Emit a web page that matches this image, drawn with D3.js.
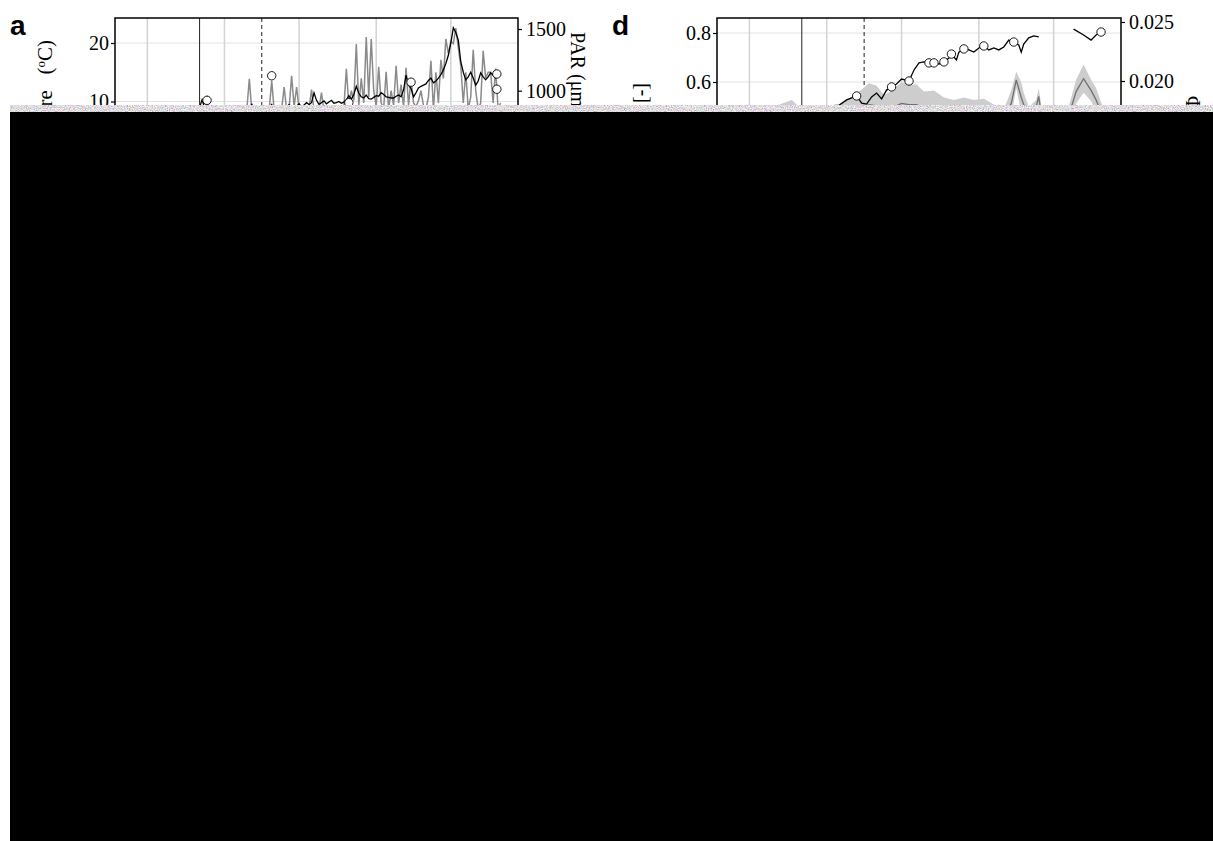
<!DOCTYPE html>
<html><head><meta charset="utf-8">
<script src="https://cdn.jsdelivr.net/npm/d3@7"></script>
<style>body{margin:0;background:#fff}svg{display:block}</style>
</head><body><svg id="c" width="1213" height="841"></svg>
<script>
// ---------- data ----------
const xDomain = [47, 209];                       // day of year
const monthGridDoy = [60, 91, 121, 152, 182];
const solidLineDoy = 81;
const dashedLineDoy = 106;
const aLeftTicks = [10, 20];
const aRightTicks = [1000, 1500];
const dLeftTicks = [0.6, 0.8];
const dRightTicks = [0.020, 0.025];

const dailyStartDoy = 80;
const parValues = [780,800,790,810,960,800,780,790,800,770,790,800,810,790,800,780,800,810,790,820,
  850,1097,830,800,820,810,800,830,820,850,1080,840,800,830,850,1030,840,860,1120,870,
  1030,850,820,840,810,850,1008,840,820,850,984,840,820,810,830,800,820,840,830,860,
  1177,880,1000,920,1379,880,1100,900,1435,950,1419,1000,870,1194,900,860,1153,850,1000,880,
  1202,900,1050,870,1185,880,1100,900,870,920,1000,880,850,950,1242,850,1150,900,1250,1100,
  1419,1300,1400,1380,1508,1350,1200,900,1150,850,950,1331,1000,850,900,1323,1100,1150,1150,900,
  1180,850,900];
const tempValues = [8,9,10.3,9,8.5,8,7,8,6.5,7.5,8,9,8,7,6,7.5,8,9,8.5,7,
  8,9,9.5,8,7,8,9,9,8,9,9.5,8.5,9,9.3,9,8.5,9,9.5,9,8.8,
  9.2,9.6,9,9.4,9.8,9.5,9.8,11.5,10.2,9.5,9.8,10.1,9.6,9.9,10.2,9.7,9.8,10,9.7,9.9,
  10.3,11,10.4,11.2,12.6,11.4,10.8,10.6,11.1,10.5,10.4,10.7,11,10.9,11.5,11.2,10.8,10.7,10.6,10.6,
  10.9,11.1,10.8,12,14.5,12.8,12.2,10.8,11.5,12.3,12.6,12.8,13,13.6,14,13.2,13.5,14,14.6,15.4,
  16.5,17.9,20,22.6,21.8,20.5,16.8,15,13.7,14.2,15,14,12.8,13.5,14.9,14.2,13.7,14.2,14.9,14.5,
  14,14.5,14.6];
const aCircleDoy = [84, 110, 141, 166, 200.5, 200.5];
const aCircleTemp = [10.2, 14.4, 9.8, 13.3, 14.7, 12.1];

const ndviDoy = [60,70,80,90,96,99,101,103,105,107,109,111,113,115,117,119,121,124,126,128,130,132,134,136,138,
  140,141,143,144,146,148,150,152,154,156,158,160,162,164,166,168,169,170,172,174,176,183,190,194,197,199,201];
const ndviValues = [0.47,0.48,0.49,0.50,0.506,0.527,0.535,0.543,0.514,0.51,0.539,0.555,0.531,0.567,0.58,0.592,0.612,0.604,0.649,0.678,0.682,0.678,0.678,0.673,0.682,
  0.698,0.714,0.69,0.722,0.735,0.731,0.722,0.739,0.747,0.731,0.739,0.731,0.743,0.771,0.763,0.751,0.722,0.755,0.78,0.788,0.784,null,0.816,0.792,0.771,0.792,0.804];
const dCircleDoy = [103,117,124,132,134,138,141,146,154,166,201];
const dCircleValues = [0.543,0.58,0.604,0.678,0.678,0.682,0.714,0.735,0.747,0.763,0.804];

const yieldDoy = [60,66,72,77,80,86,92,96,99,104,108,111,114,117,121,124,127,130,134,138,142,146,150,154,158,162,
  165,167,169,170,172,175,176,177,183,188,191,194,197,199,201,202];
const yieldHi = [0.0172,0.0176,0.0180,0.0184,0.0178,0.0174,0.0177,0.0180,0.0184,0.0191,0.0198,0.0196,0.0188,0.0192,0.0199,0.0197,0.0197,0.0191,0.0192,0.0186,0.0184,0.0186,0.0184,0.0185,0.0180,0.0176,
  0.0192,0.0208,0.0199,0.0190,0.0178,0.0184,0.0194,0.0180,null,0.0178,0.0201,0.0214,0.0201,0.0194,0.0182,0.0178];
const yieldMid = [0.0160,0.0163,0.0166,0.0170,0.0166,0.0163,0.0165,0.0168,0.0172,0.0176,0.0180,0.0179,0.0175,0.0177,0.0181,0.0180,0.0180,0.0177,0.0178,0.0175,0.0174,0.0175,0.0174,0.0175,0.0172,0.0169,
  0.0181,0.0201,0.0186,0.0180,0.0171,0.0178,0.0187,0.0172,null,0.0170,0.0191,0.0202,0.0192,0.0184,0.0174,0.0170];
const yieldLo = [0.0148,0.0150,0.0152,0.0156,0.0154,0.0152,0.0153,0.0156,0.0160,0.0161,0.0162,0.0162,0.0162,0.0162,0.0163,0.0163,0.0163,0.0163,0.0164,0.0164,0.0164,0.0164,0.0164,0.0165,0.0164,0.0162,
  0.0170,0.0194,0.0173,0.0170,0.0164,0.0172,0.0180,0.0164,null,0.0162,0.0181,0.0190,0.0183,0.0174,0.0166,0.0162];

// ---------- drawing ----------
const svg = d3.select("#c");
const defs = svg.append("defs");
const serif = "'Liberation Serif', 'Times New Roman', serif";
const sans = "'Liberation Sans', Arial, sans-serif";
const plotTop = 18, plotBottom = 420;

function panel(id, x0, x1, yL, yR, leftTicks, rightTicks, fmtL, fmtR) {
  const x = d3.scaleLinear().domain(xDomain).range([x0, x1]);
  const g = svg.append("g");
  defs.append("clipPath").attr("id", "clip" + id)
    .append("rect").attr("x", x0).attr("y", plotTop).attr("width", x1 - x0).attr("height", plotBottom - plotTop);
  g.selectAll(".hg").data(leftTicks).join("line")
    .attr("x1", x0).attr("x2", x1).attr("y1", d => yL(d)).attr("y2", d => yL(d))
    .attr("stroke", "#e3e3e3").attr("stroke-width", 1.2);
  g.selectAll(".vg").data(monthGridDoy).join("line")
    .attr("x1", d => x(d)).attr("x2", d => x(d)).attr("y1", plotTop).attr("y2", plotBottom)
    .attr("stroke", "#d3d3d3").attr("stroke-width", 1.5);
  g.append("line").attr("x1", x(solidLineDoy)).attr("x2", x(solidLineDoy)).attr("y1", plotTop).attr("y2", plotBottom)
    .attr("stroke", "#222").attr("stroke-width", 1);
  g.append("line").attr("x1", x(dashedLineDoy)).attr("x2", x(dashedLineDoy)).attr("y1", plotTop).attr("y2", plotBottom)
    .attr("stroke", "#222").attr("stroke-width", 1).attr("stroke-dasharray", "4,3");
  const data = g.append("g").attr("clip-path", `url(#clip${id})`);
  const al = d3.axisLeft(yL).tickValues(leftTicks).tickSize(4).tickPadding(2).tickFormat(fmtL);
  const ar = d3.axisRight(yR).tickValues(rightTicks).tickSize(4).tickPadding(4).tickFormat(fmtR);
  [[al, x0], [ar, x1]].forEach(([a, xp]) => {
    const ag = g.append("g").attr("transform", `translate(${xp},0)`).call(a);
    ag.select(".domain").remove();
    ag.selectAll("line").attr("stroke", "#000").attr("stroke-width", 1.2);
    ag.selectAll("text").attr("font-family", serif).attr("font-size", 20).attr("fill", "#000");
  });
  return {x, g, data, frame: () => g.append("rect").attr("x", x0).attr("y", plotTop)
    .attr("width", x1 - x0).attr("height", plotBottom - plotTop).attr("fill", "none")
    .attr("stroke", "#000").attr("stroke-width", 1.5)};
}

// Panel a
const yTa = d3.scaleLinear().domain([10, 20]).range([101.5, 43]);
const yPa = d3.scaleLinear().domain([1000, 1500]).range([90.7, 29]);
const A = panel("a", 115, 518, yTa, yPa, aLeftTicks, aRightTicks, d3.format("d"), d3.format("d"));
const parLine = d3.line().x((d, i) => A.x(dailyStartDoy + i)).y(d => yPa(d));
A.data.append("path").datum(parValues).attr("d", parLine)
  .attr("fill", "none").attr("stroke", "#8a8a8a").attr("stroke-width", 1.5);
const tLine = d3.line().x((d, i) => A.x(dailyStartDoy + i)).y(d => yTa(d));
A.data.append("path").datum(tempValues).attr("d", tLine)
  .attr("fill", "none").attr("stroke", "#000").attr("stroke-width", 1.3);
A.data.selectAll("circle").data(aCircleDoy).join("circle")
  .attr("cx", d => A.x(d)).attr("cy", (d, i) => yTa(aCircleTemp[i])).attr("r", 4.2)
  .attr("fill", "#fff").attr("stroke", "#000").attr("stroke-width", 0.9);
A.frame();

// Panel d
const yNd = d3.scaleLinear().domain([0.6, 0.8]).range([82, 33]);
const yYd = d3.scaleLinear().domain([0.020, 0.025]).range([81, 22]);
const D = panel("d", 717, 1121, yNd, yYd, dLeftTicks, dRightTicks, d3.format(".1f"), d3.format(".3f"));
const band = d3.area().defined((d, i) => yieldHi[i] !== null)
  .x((d, i) => D.x(yieldDoy[i])).y0((d, i) => yYd(yieldLo[i])).y1((d, i) => yYd(yieldHi[i]));
D.data.append("path").datum(yieldDoy).attr("d", band).attr("fill", "#cdcdcd");
const midLine = d3.line().defined(d => d !== null)
  .x((d, i) => D.x(yieldDoy[i])).y(d => yYd(d));
D.data.append("path").datum(yieldMid).attr("d", midLine)
  .attr("fill", "none").attr("stroke", "#707070").attr("stroke-width", 1.3);
const nLine = d3.line().defined(d => d !== null)
  .x((d, i) => D.x(ndviDoy[i])).y(d => yNd(d));
D.data.append("path").datum(ndviValues).attr("d", nLine)
  .attr("fill", "none").attr("stroke", "#000").attr("stroke-width", 1.3);
D.data.selectAll("circle").data(dCircleDoy).join("circle")
  .attr("cx", d => D.x(d)).attr("cy", (d, i) => yNd(dCircleValues[i])).attr("r", 4.2)
  .attr("fill", "#fff").attr("stroke", "#000").attr("stroke-width", 0.9);
D.frame();

// Panel letters
svg.append("text").attr("x", 10).attr("y", 35).text("a")
  .attr("font-family", sans).attr("font-weight", "bold").attr("font-size", 28);
svg.append("text").attr("x", 612).attr("y", 35).text("d")
  .attr("font-family", sans).attr("font-weight", "bold").attr("font-size", 28);

// Axis titles
function vtext(x, y, rot, anchor, size) {
  return svg.append("text").attr("transform", `translate(${x},${y}) rotate(${rot})`)
    .attr("text-anchor", anchor).attr("font-family", serif).attr("font-size", size)
    .style("white-space", "pre");
}
const tA = vtext(52, 40, -90, "end", 21);
tA.append("tspan").text("Temperature   (");
tA.append("tspan").attr("font-size", 13).attr("dy", -7).text("o");
tA.append("tspan").attr("dy", 7).text("C)");
vtext(571, 32, 90, "start", 20).text("PAR (μmol m⁻² s⁻¹)");
vtext(647, 83, -90, "end", 20).text("NDVI [-]");
vtext(1186, 96, 90, "start", 20).text("ΦF [-]");

// Damaged lower area of the image
const f = defs.append("filter").attr("id", "noise").attr("x", 0).attr("y", 0).attr("width", 1).attr("height", 1);
f.append("feTurbulence").attr("type", "fractalNoise").attr("baseFrequency", 0.95).attr("numOctaves", 2).attr("seed", 7);
f.append("feColorMatrix").attr("type", "matrix")
  .attr("values", "1.4 0 0 0 0.05  0 1.4 0 0 0.02  0 0 1.4 0 0.05  0 0 0 0 1");
svg.append("rect").attr("x", 10).attr("y", 105).attr("width", 1203).attr("height", 7)
  .attr("filter", "url(#noise)").attr("fill", "#ccc");
svg.append("rect").attr("x", 10).attr("y", 112).attr("width", 1203).attr("height", 729).attr("fill", "#000");
</script></body></html>
